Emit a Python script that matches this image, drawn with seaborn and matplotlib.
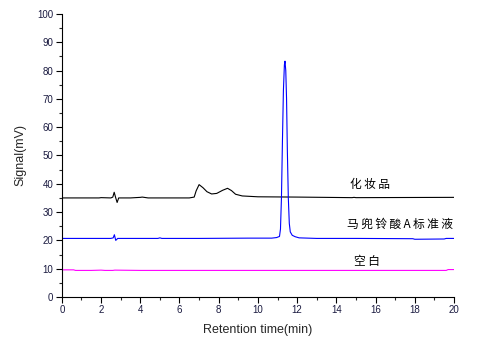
import matplotlib
matplotlib.use("Agg")
import matplotlib.pyplot as plt
import seaborn as sns
import pandas as pd
from matplotlib.ticker import MultipleLocator

sns.set_style("ticks")
plt.rcParams['font.family'] = ['Liberation Sans', 'Noto Sans CJK SC', 'DejaVu Sans']

# Cosmetic sample chromatogram (black)
cosmetic_t = [0.0, 1.9, 2.0, 2.5, 2.6, 2.67, 2.75, 2.82, 2.9, 3.5, 4.0, 4.1, 4.4, 5.0,
              6.5, 6.75, 6.85, 7.0, 7.2, 7.4, 7.64, 7.9, 8.2, 8.45, 8.65, 8.86, 9.2,
              10.0, 12.0, 14.8, 14.9, 15.0, 20.0]
cosmetic_y = [35.0, 35.0, 35.1, 35.0, 35.3, 37.0, 35.0, 33.4, 35.0, 35.0, 35.2, 35.3, 35.0, 35.0,
              35.0, 35.3, 37.5, 39.7, 38.6, 37.2, 36.4, 36.6, 37.7, 38.4, 37.6, 36.3, 35.7,
              35.4, 35.3, 35.1, 35.2, 35.1, 35.2]

# Aristolochic acid A standard (blue)
standard_t = [0.0, 2.5, 2.62, 2.68, 2.75, 2.85, 3.5, 4.9, 5.0, 5.1, 7.0, 9.5, 10.7, 10.95, 11.1,
              11.15, 11.2, 11.25, 11.3, 11.35, 11.38, 11.42, 11.46, 11.5, 11.55, 11.6,
              11.65, 11.75, 11.9, 12.1, 13.0, 15.0, 17.9, 18.0, 19.5, 19.6, 20.0]
standard_y = [20.7, 20.7, 20.9, 22.0, 20.0, 20.7, 20.7, 20.7, 20.9, 20.7, 20.7, 20.8, 20.8, 21.0, 21.4,
              24.0, 35.0, 55.0, 73.0, 82.0, 83.3, 80.0, 70.0, 52.0, 35.0, 26.0,
              23.0, 21.8, 21.3, 20.9, 20.7, 20.7, 20.6, 20.4, 20.5, 20.7, 20.7]

# Blank run (magenta)
blank_t = [0.0, 0.6, 0.7, 1.5, 2.0, 2.2, 2.6, 2.7, 4.0, 10.0, 15.0, 19.6, 19.7, 20.0]
blank_y = [9.6, 9.6, 9.4, 9.4, 9.5, 9.4, 9.4, 9.5, 9.4, 9.4, 9.4, 9.4, 9.7, 9.7]

series_names = ["化妆品", "马兜铃酸A标准液", "空白"]
series_colors = ["#000000", "#0000ff", "#ff00ff"]
label_x = [15.7, 17.25, 15.55]
label_y = [39.6, 25.8, 12.4]

frames = []
for name, t, y in zip(series_names, [cosmetic_t, standard_t, blank_t],
                      [cosmetic_y, standard_y, blank_y]):
    frames.append(pd.DataFrame({"time": t, "signal": y, "sample": name}))
df = pd.concat(frames, ignore_index=True)

fig = plt.figure(figsize=(4.83, 3.47), dpi=100)
ax = fig.add_axes([0.128, 0.144, 0.812, 0.816])

sns.lineplot(data=df, x="time", y="signal", hue="sample",
             palette=dict(zip(series_names, series_colors)),
             hue_order=series_names, estimator=None, sort=False, units="sample",
             linewidth=0.8, legend=False, ax=ax)

# Curve labels, characters spread out with thin spaces
for name, x, y in zip(series_names, label_x, label_y):
    ax.text(x, y, "\u2009".join(name), ha="center", va="center", fontsize=8.5,
            family=['Noto Sans CJK SC', 'DejaVu Sans'], color="black")

ax.set_xlim(0, 20)
ax.set_ylim(0, 100)
ax.xaxis.set_major_locator(MultipleLocator(2))
ax.xaxis.set_minor_locator(MultipleLocator(1))
ax.yaxis.set_major_locator(MultipleLocator(10))
ax.yaxis.set_minor_locator(MultipleLocator(5))
ax.tick_params(which="major", length=4, width=0.8, labelsize=7, pad=2, colors="black",
               labelcolor="#1a1a40")
ax.tick_params(which="minor", length=2, width=0.8)
for s in ["top", "right"]:
    ax.spines[s].set_visible(False)
for s in ["left", "bottom"]:
    ax.spines[s].set_linewidth(0.8)
    ax.spines[s].set_color("black")

ax.set_xlabel("Retention time(min)", fontsize=9, labelpad=6)
ax.set_ylabel("Signal(mV)", fontsize=9, labelpad=8)

fig.savefig("out.png", dpi=100)
